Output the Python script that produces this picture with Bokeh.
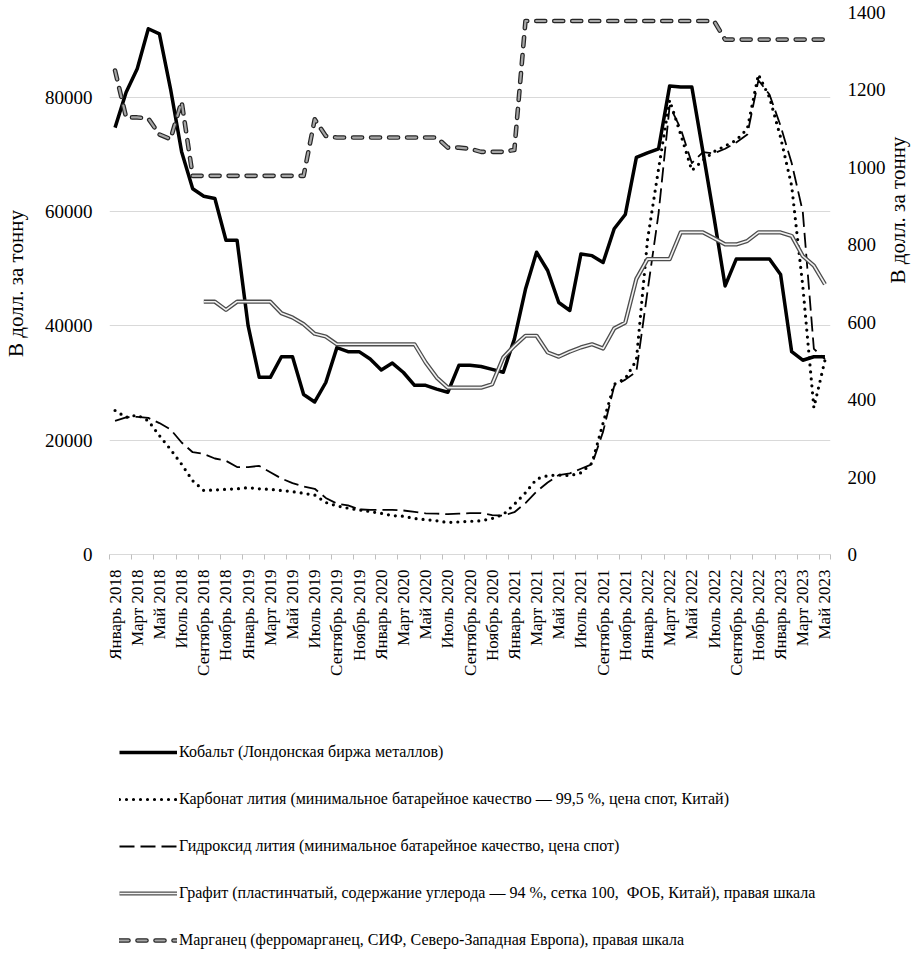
import math
import numpy as np
from bokeh.plotting import figure
from bokeh.layouts import column
from bokeh.models import Range1d, LinearAxis, FixedTicker, Legend, LegendItem
from bokeh.embed import file_html
from bokeh.resources import INLINE

# ---------------- data (monthly, January 2018 - May 2023) ----------------
tick_labels = [
    "Январь 2018", "Март 2018", "Май 2018", "Июль 2018", "Сентябрь 2018", "Ноябрь 2018",
    "Январь 2019", "Март 2019", "Май 2019", "Июль 2019", "Сентябрь 2019", "Ноябрь 2019",
    "Январь 2020", "Март 2020", "Май 2020", "Июль 2020", "Сентябрь 2020", "Ноябрь 2020",
    "Январь 2021", "Март 2021", "Май 2021", "Июль 2021", "Сентябрь 2021", "Ноябрь 2021",
    "Январь 2022", "Март 2022", "Май 2022", "Июль 2022", "Сентябрь 2022", "Ноябрь 2022",
    "Январь 2023", "Март 2023", "Май 2023",
]

# Cobalt (LME), USD/t, left axis
cobalt = [
    74700, 80900, 85000, 92000, 91100, 81500, 70500, 64000, 62700, 62300, 55000, 55000,
    40000, 31000, 31000, 34600, 34600, 28000, 26700, 30100, 36200, 35500, 35500, 34200,
    32300, 33500, 31850, 29600, 29600, 28950, 28400, 33100, 33100, 32900, 32400, 31900,
    37700, 46400, 52900, 49700, 44100, 42700, 52600, 52300, 51100, 57000, 59500, 69500,
    70300, 71000, 82000, 81800, 81800, 70500, 59000, 47000, 51700, 51700, 51700, 51700,
    49000, 35500, 34000, 34600, 34600,
]

# Lithium carbonate, USD/t, left axis
li_carbonate = [
    25200, 24000, 24400, 23400, 20800, 18400, 15800, 12900, 11200, 11300, 11400, 11500,
    11700, 11500, 11400, 11200, 11000, 10700, 10400, 9100, 8500, 8100, 7800, 7500,
    7200, 6800, 6700, 6300, 6100, 5900, 5600, 5700, 5800, 5900, 6300, 7000,
    8800, 10800, 13200, 13800, 13900, 13800, 14300, 16000, 23000, 29800, 30800, 34000,
    55000, 67500, 79500, 73500, 67200, 69000, 70500, 71500, 72500, 74500, 84000, 80000,
    73000, 64500, 47000, 25700, 34000,
]

# Lithium hydroxide, USD/t, left axis
li_hydroxide = [
    23400, 24000, 24100, 23900, 23000, 21900, 19600, 17900, 17600, 16800, 16400, 15300,
    15300, 15500, 14400, 13300, 12500, 11900, 11500, 9900, 8900, 8600, 7900, 7800,
    7800, 7800, 7700, 7450, 7200, 7150, 7050, 7150, 7230, 7230, 6900, 6800,
    7400, 9000, 11000, 12600, 13900, 14200, 15000, 15800, 21500, 29500, 30600, 32000,
    46000, 59700, 78500, 74500, 68500, 70400, 70200, 71000, 72100, 73500, 83000, 80500,
    75000, 68500, 60000, 36000, 34200,
]

# Graphite, USD/t, right axis (no data before September 2018)
graphite = [
    None, None, None, None, None, None, None, None, 653, 653, 632, 653,
    653, 653, 653, 623, 612, 595, 570, 563, 543, 543, 543, 543,
    543, 543, 543, 543, 496, 457, 431, 431, 431, 431, 440, 509,
    539, 565, 565, 522, 511, 524, 535, 543, 532, 584, 599, 712,
    763, 763, 763, 832, 832, 832, 817, 801, 801, 810, 832, 832,
    832, 823, 771, 746, 698,
]

# Manganese (ferromanganese), USD/t, right axis
manganese = [
    1250, 1129, 1129, 1126, 1085, 1073, 1170, 978, 978, 978, 978, 978,
    978, 978, 978, 978, 978, 978, 1124, 1081, 1077, 1077, 1077, 1077,
    1077, 1077, 1077, 1077, 1077, 1077, 1051, 1051, 1048, 1040, 1040, 1040,
    1045, 1378, 1378, 1378, 1378, 1378, 1378, 1378, 1378, 1378, 1378, 1378,
    1378, 1378, 1378, 1378, 1378, 1378, 1378, 1330, 1330, 1330, 1330, 1330,
    1330, 1330, 1330, 1330, 1330,
]

left_ticks = [0, 20000, 40000, 60000, 80000]
right_ticks = [0, 200, 400, 600, 800, 1000, 1200, 1400]

legend_labels = [
    "Кобальт (Лондонская биржа металлов)",
    "Карбонат лития (минимальное батарейное качество — 99,5 %, цена спот, Китай)",
    "Гидроксид лития (минимальное батарейное качество, цена спот)",
    "Графит (пластинчатый, содержание углерода — 94 %, сетка 100,  ФОБ, Китай), правая шкала",
    "Марганец (ферромарганец, СИФ, Северо-Западная Европа), правая шкала",
]
axis_title = "В долл. за тонну"

# ---------------- styles ----------------
FONT = "Liberation Serif"
STY_CO = dict(line_color="black", line_width=3.5, line_join="round")
STY_LC = dict(line_color="black", line_width=3.2, line_dash="0 7", line_cap="round", line_join="round")
STY_LH = dict(line_color="black", line_width=1.8, line_dash="15 6", line_join="round")
STY_G1 = dict(line_color="#4d4d4d", line_width=4.2, line_join="round")
STY_G2 = dict(line_color="#f2f2f2", line_width=1.6, line_join="round")
STY_M1 = dict(line_color="#262626", line_width=4.6, line_dash="9 9", line_cap="round", line_join="round")
STY_M2 = dict(line_color="#a6a6a6", line_width=2.2, line_dash="9 9", line_cap="round", line_join="round")

# ---------------- main chart ----------------
n = len(cobalt)
x = np.arange(n)
tick_pos = list(range(0, n, 2))

p = figure(
    width=None, height=None,
    frame_width=721, frame_height=542,
    output_backend="svg", toolbar_location=None,
    x_range=Range1d(-0.5, n - 0.5),
    y_range=Range1d(0, 94850),
    min_border_left=105, min_border_right=81,
    min_border_top=12, min_border_bottom=0,
)
p.outline_line_color = None
p.xgrid.visible = False
p.ygrid.grid_line_color = "#d9d9d9"
p.ygrid.grid_line_width = 1
p.ygrid.ticker = FixedTicker(ticks=left_ticks[1:])

xa = p.xaxis[0]
xa.ticker = FixedTicker(ticks=tick_pos, minor_ticks=[t - 0.5 for t in tick_pos] + [n - 0.5])
xa.major_label_overrides = {t: lab for t, lab in zip(tick_pos, tick_labels)}
xa.major_label_orientation = math.pi / 2
xa.major_tick_line_color = None
xa.major_tick_in = 0
xa.major_tick_out = 0
xa.minor_tick_line_color = "#bfbfbf"
xa.minor_tick_in = 0
xa.minor_tick_out = 5
xa.axis_line_color = "#d9d9d9"
xa.major_label_standoff = 10
xa.major_label_text_font = FONT
xa.major_label_text_font_size = "17px"
xa.major_label_text_color = "black"


def style_y(ax, standoff, title_standoff):
    ax.axis_line_color = None
    ax.major_tick_line_color = None
    ax.minor_tick_line_color = None
    ax.major_tick_in = 0
    ax.major_tick_out = 0
    ax.minor_tick_in = 0
    ax.minor_tick_out = 0
    ax.major_label_standoff = standoff
    ax.major_label_text_font = FONT
    ax.major_label_text_font_size = "19px"
    ax.major_label_text_color = "black"
    ax.axis_label = axis_title
    ax.axis_label_text_font = FONT
    ax.axis_label_text_font_size = "21px"
    ax.axis_label_text_font_style = "normal"
    ax.axis_label_text_color = "black"
    ax.axis_label_standoff = title_standoff


ya = p.yaxis[0]
ya.ticker = FixedTicker(ticks=left_ticks)
style_y(ya, 17, 14)

p.extra_y_ranges = {"right": Range1d(0, 1400)}
ra = LinearAxis(y_range_name="right", ticker=FixedTicker(ticks=right_ticks))
style_y(ra, 17, 9)
if "axis_label_orientation" in ra.properties():
    ra.axis_label_orientation = math.pi / 2
p.add_layout(ra, "right")

gr = np.array([np.nan if v is None else v for v in graphite], dtype=float)

p.line(x, cobalt, **STY_CO)
p.line(x, li_carbonate, **STY_LC)
p.line(x, li_hydroxide, **STY_LH)
p.line(x, gr, y_range_name="right", **STY_G1)
p.line(x, gr, y_range_name="right", **STY_G2)
p.line(x, manganese, y_range_name="right", **STY_M1)
p.line(x, manganese, y_range_name="right", **STY_M2)

# ---------------- legend strip: a second plot whose frame holds the legend ----------------
q = figure(
    width=None, height=None,
    frame_width=721, frame_height=277,
    output_backend="svg", toolbar_location=None,
    x_range=Range1d(0, 1), y_range=Range1d(0, 1),
    x_axis_type=None, y_axis_type=None,
    min_border_left=105, min_border_right=81, min_border_top=0, min_border_bottom=0,
)
q.outline_line_color = None
q.grid.visible = False

# sample renderers for the legend keys (their points lie outside the strip's ranges)
kx, ky = [5, 6], [5, 6]
k_co = q.line(kx, ky, **STY_CO)
k_lc = q.line(kx, ky, **STY_LC)
k_lh = q.line(kx, ky, **STY_LH)
k_g1 = q.line(kx, ky, **STY_G1)
k_g2 = q.line(kx, ky, **STY_G2)
k_m1 = q.line(kx, ky, **STY_M1)
k_m2 = q.line(kx, ky, **STY_M2)

legend = Legend(
    items=[
        LegendItem(label=legend_labels[0], renderers=[k_co]),
        LegendItem(label=legend_labels[1], renderers=[k_lc]),
        LegendItem(label=legend_labels[2], renderers=[k_lh]),
        LegendItem(label=legend_labels[3], renderers=[k_g1, k_g2]),
        LegendItem(label=legend_labels[4], renderers=[k_m1, k_m2]),
    ],
    location=(10, 5),
    orientation="vertical",
    glyph_width=58, glyph_height=20, label_height=20,
    spacing=27, label_standoff=2, padding=0, margin=0,
    background_fill_alpha=0, border_line_color=None,
    label_text_font=FONT, label_text_font_size="16px", label_text_color="black",
)
q.add_layout(legend)

open("out.html", "w").write(file_html(column(p, q, spacing=0), INLINE))
